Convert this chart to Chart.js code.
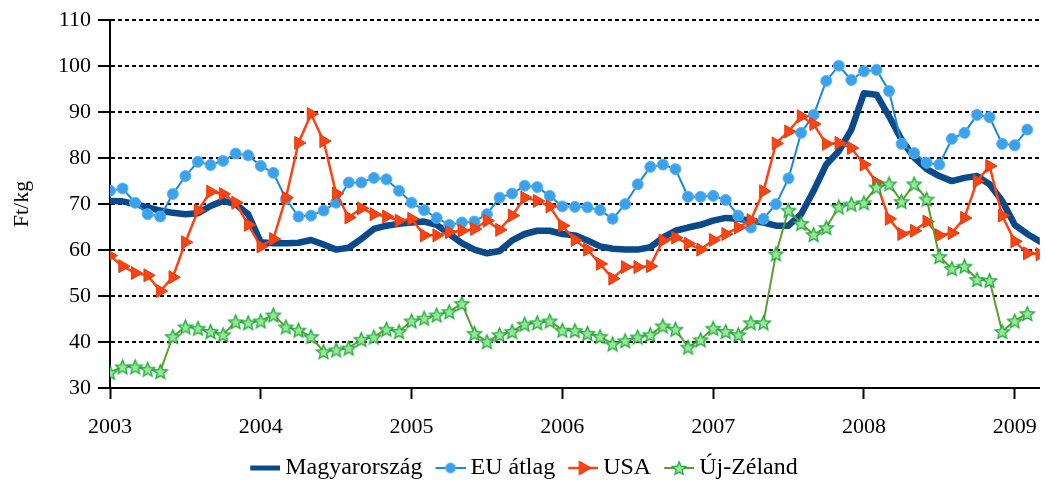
<!DOCTYPE html>
<html><head><meta charset="utf-8">
<script src="https://cdn.jsdelivr.net/npm/chart.js@4"></script>
<style>html,body{margin:0;padding:0;background:#fff}</style>
</head><body>
<canvas id="c" width="1052" height="485"></canvas>
<script>
// ---- data (monthly, Jan 2003 = index 0) ----
const yearLabels = ['2003','2004','2005','2006','2007','2008','2009'];
const yTickValues = [30,40,50,60,70,80,90,100,110];
const seriesNames = ['Magyarország','EU átlag','USA','Új-Zéland'];
const magyarorszag = [70.7,70.6,70.0,69.3,68.6,68.1,67.8,68.0,69.6,70.7,
  70.0,67.8,61.7,61.5,61.5,61.6,62.2,61.2,60.1,60.5,
  62.4,64.6,65.3,65.7,66.0,66.2,65.5,63.5,61.5,60.1,
  59.3,59.8,62.1,63.5,64.2,64.2,63.5,63.2,62.1,60.8,
  60.3,60.1,60.1,60.6,62.7,64.2,64.9,65.5,66.4,67.0,
  66.8,66.4,66.0,65.3,65.3,67.8,72.9,78.6,81.5,86.2,
  94.1,93.8,89.1,84.0,80.1,77.6,76.1,75.0,75.7,76.1,
  74.3,70.7,65.5,63.5,61.9];
const euAtlag = [72.9,73.4,70.3,67.8,67.3,72.2,76.1,79.2,78.5,79.4,
  81.0,80.6,78.3,76.8,71.1,67.3,67.5,68.6,70.3,74.7,
  74.7,75.7,75.4,72.9,70.3,68.7,67.0,65.5,66.0,66.2,
  67.8,71.4,72.3,74.0,73.7,71.8,69.5,69.4,69.3,68.7,
  66.8,70.0,74.3,78.1,78.6,77.6,71.6,71.6,71.8,70.9,
  67.5,64.9,66.8,70.0,75.6,85.5,89.4,96.8,100.1,97.0,
  98.9,99.2,94.6,83.1,81.1,79.0,78.6,84.2,85.5,89.4,
  88.9,83.1,82.8,86.2];
const usa = [58.8,56.5,55.0,54.5,51.1,54.1,61.7,68.6,72.7,72.2,
  70.3,65.5,60.8,62.4,71.4,83.3,89.6,83.7,72.3,67.1,
  69.1,67.8,67.3,66.4,66.8,63.2,63.2,63.9,64.2,64.6,
  66.4,64.4,67.5,71.4,70.7,69.5,65.3,62.2,60.1,57.0,
  53.8,56.3,56.3,56.5,62.1,62.7,61.4,60.1,62.2,63.5,
  64.9,66.5,72.8,83.2,85.8,89.1,87.4,83.1,83.3,82.2,
  78.6,74.7,66.8,63.5,64.2,66.2,63.2,63.7,67.0,75.0,
  78.3,67.5,61.9,59.3,59.1];
const ujZeland = [33.4,34.6,34.6,34.1,33.6,41.2,43.3,43.0,42.3,41.6,
  44.4,44.2,44.6,45.9,43.3,42.6,41.2,37.9,38.3,38.7,
  40.6,41.1,42.8,42.3,44.6,45.2,45.9,46.6,48.4,41.9,
  40.1,41.6,42.3,43.9,44.2,44.6,42.6,42.5,41.9,41.2,
  39.6,40.3,41.1,41.6,43.5,42.8,38.9,40.5,43.0,42.3,
  41.6,44.2,44.2,59.2,68.7,65.8,63.4,64.9,69.4,70.0,
  70.3,73.7,74.4,70.6,74.4,71.1,58.6,56.0,56.5,53.6,
  53.4,42.3,44.6,46.2];

// ---- styles ----
const FONT = 'Liberation Serif, Times New Roman, serif';
const C_HU = '#0a4a8b', C_EU = '#1b8ad6', C_EU_FILL = '#3aa2ec', C_US = '#ff4212', C_US_EDGE = '#d9400f',
      C_NZ = '#5e9c2c', C_NZ_FILL = '#95e895', C_NZ_EDGE = '#1fa83c';

const toPts = arr => arr.map((v, i) => ({x: i, y: v}));

function drawStar(g, cx, cy, r, fill, stroke) {
  g.beginPath();
  for (let k = 0; k < 10; k++) {
    const rr = k % 2 ? r * 0.45 : r;
    const a = -Math.PI / 2 + k * Math.PI / 5;
    g.lineTo(cx + rr * Math.cos(a), cy + rr * Math.sin(a));
  }
  g.closePath();
  g.fillStyle = fill; g.fill();
  g.lineWidth = 1.3; g.strokeStyle = stroke; g.stroke();
}
function starCanvas(r) {
  const s = Math.ceil(r * 2 + 4);
  const c = document.createElement('canvas'); c.width = s; c.height = s;
  drawStar(c.getContext('2d'), s / 2, s / 2 + 0.8, r, C_NZ_FILL, C_NZ_EDGE);
  return c;
}
const LEG_FONT = 24;
const BOXW = 30, M = 7, ICONW = BOXW + 2 * M, ICONH = 22;
function legendIcon(kind) {
  const c = document.createElement('canvas'); c.width = ICONW; c.height = ICONH;
  const g = c.getContext('2d');
  const x0 = 2 * M, x1 = ICONW, cy = ICONH / 2, cx = (x0 + x1) / 2;
  g.lineCap = 'butt';
  if (kind === 0) {
    g.strokeStyle = C_HU; g.lineWidth = 5;
    g.beginPath(); g.moveTo(x0, cy); g.lineTo(x1, cy); g.stroke();
  } else if (kind === 1) {
    g.strokeStyle = C_EU; g.lineWidth = 2;
    g.beginPath(); g.moveTo(x0, cy); g.lineTo(x1, cy); g.stroke();
    g.beginPath(); g.arc(cx, cy, 5, 0, Math.PI * 2); g.fillStyle = C_EU_FILL; g.fill();
    g.lineWidth = 1; g.strokeStyle = '#5cb4ef'; g.stroke();
  } else if (kind === 2) {
    g.strokeStyle = C_US; g.lineWidth = 2.5;
    g.beginPath(); g.moveTo(x0, cy); g.lineTo(x1, cy); g.stroke();
    const r = 8;
    g.beginPath(); g.moveTo(cx + r, cy); g.lineTo(cx - r / 2, cy - r * 0.866); g.lineTo(cx - r / 2, cy + r * 0.866); g.closePath();
    g.fillStyle = C_US; g.fill(); g.lineWidth = 1; g.strokeStyle = C_US_EDGE; g.stroke();
  } else {
    g.strokeStyle = C_NZ; g.lineWidth = 2;
    g.beginPath(); g.moveTo(x0, cy); g.lineTo(x1, cy); g.stroke();
    drawStar(g, cx, cy + 0.8, 7, C_NZ_FILL, C_NZ_EDGE);
  }
  return c;
}
const legendIcons = [0, 1, 2, 3].map(legendIcon);
const star = starCanvas(7.5);

new Chart(document.getElementById('c'), {
  type: 'line',
  data: {
    datasets: [
      {label: seriesNames[0], data: toPts(magyarorszag), borderColor: C_HU, borderWidth: 6.5,
       pointRadius: 0, borderJoinStyle: 'round', borderCapStyle: 'round', order: 4},
      {label: seriesNames[1], data: toPts(euAtlag), borderColor: C_EU, borderWidth: 2,
       pointStyle: 'circle', pointRadius: 5.5, pointBackgroundColor: C_EU_FILL, pointBorderColor: '#5cb4ef', pointBorderWidth: 1, order: 3},
      {label: seriesNames[2], data: toPts(usa), borderColor: C_US, borderWidth: 2.5,
       pointStyle: 'triangle', pointRotation: 90, pointRadius: 7.5, pointBackgroundColor: C_US, pointBorderColor: C_US_EDGE, pointBorderWidth: 1, order: 2},
      {label: seriesNames[3], data: toPts(ujZeland), borderColor: C_NZ, borderWidth: 2,
       pointStyle: star, pointRadius: 7.5, order: 1}
    ]
  },
  options: {
    responsive: false, animation: false, devicePixelRatio: 1,
    layout: {padding: {left: 0, right: 11, top: 17, bottom: -5}},
    elements: {line: {tension: 0}},
    plugins: {
      tooltip: {enabled: false},
      legend: {
        position: 'bottom',
        labels: {
          usePointStyle: true, pointStyleWidth: BOXW, boxHeight: LEG_FONT, padding: 6,
          color: '#000', font: {family: FONT, size: LEG_FONT},
          generateLabels: chart => chart.data.datasets.map((ds, i) => ({
            text: ds.label, pointStyle: legendIcons[i], fillStyle: 'rgba(0,0,0,0)',
            strokeStyle: 'rgba(0,0,0,0)', lineWidth: 0, hidden: false, datasetIndex: i, fontColor: '#000'
          }))
        }
      }
    },
    scales: {
      x: {
        type: 'linear', min: 0, max: 74,
        afterBuildTicks: s => { s.ticks = yearLabels.map((_, k) => ({value: k * 12})); },
        afterFit: s => { s.height = 62; },
        ticks: {callback: v => yearLabels[v / 12], color: '#000', font: {family: FONT, size: 22}, padding: 15, maxRotation: 0, autoSkip: false},
        grid: {drawOnChartArea: false, tickLength: 11, tickColor: '#000', tickWidth: 2},
        border: {color: '#000', width: 2}
      },
      y: {
        min: 30, max: 110,
        afterBuildTicks: s => { s.ticks = yTickValues.map(v => ({value: v})); },
        afterFit: s => { s.width = 110; },
        ticks: {color: '#000', font: {family: FONT, size: 22}, padding: 7},
        grid: {color: c => (c.tick && c.tick.value === 30) ? 'rgba(0,0,0,0)' : '#000', lineWidth: 2,
               tickLength: 12, tickColor: '#000', tickWidth: 2},
        border: {color: '#000', width: 2, dash: [4, 3]},
        title: {display: true, text: 'Ft/kg', color: '#000', font: {family: FONT, size: 22}, padding: {top: 9, bottom: 0}}
      }
    }
  }
});
</script>
</body></html>
